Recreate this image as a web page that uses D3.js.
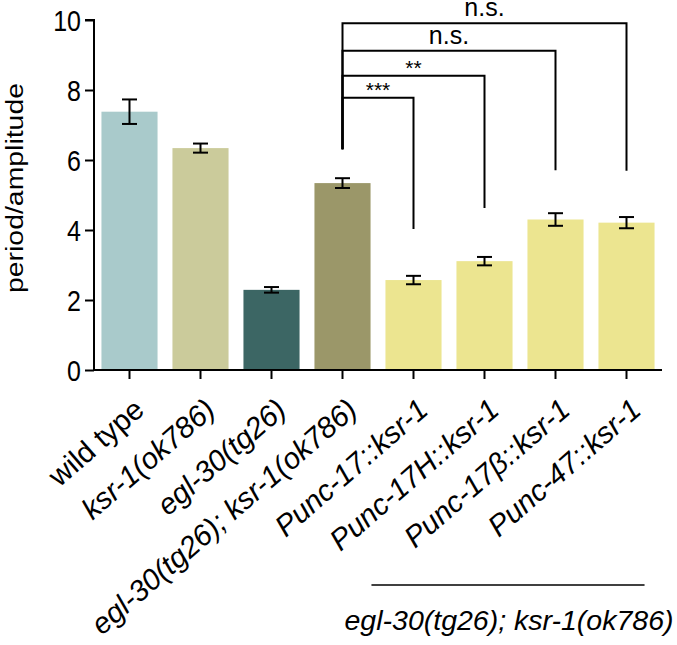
<!DOCTYPE html>
<html><head><meta charset="utf-8">
<script src="https://cdn.jsdelivr.net/npm/d3@7/dist/d3.min.js"></script>
<style>
body{margin:0;background:#fff}
svg{display:block}
text{font-family:"Liberation Sans",Arial,Helvetica,sans-serif;fill:#000}
</style>
</head><body>
<svg id="chart" width="677" height="645"></svg>
<script>
// ---- data ----
const categories = ["wild type","ksr-1(ok786)","egl-30(tg26)","egl-30(tg26); ksr-1(ok786)",
  "Punc-17::ksr-1","Punc-17H::ksr-1","Punc-17β::ksr-1","Punc-47::ksr-1"];
const italicLabel = [false,true,true,true,true,true,true,true];
const means = [7.38,6.34,2.29,5.34,2.57,3.11,4.30,4.21];
const sems  = [0.35,0.13,0.08,0.14,0.12,0.12,0.18,0.16];
const barColors = ["#a9cacb","#cbcb9b","#3c6664","#9b9769","#ece590","#ece590","#ece590","#ece590"];
const yTicks = [0,2,4,6,8,10];
const yLabel = "period/amplitude";
const groupLabel = "egl-30(tg26); ksr-1(ok786)";
// significance comparisons (bar indices, bracket level, drop ends in data units)
const compFrom  = [3,3,3,3];
const compTo    = [4,5,6,7];
const compLevel = [7.78,8.41,9.12,9.91];
const compLeftEnd  = [6.31,6.31,6.31,6.31];
const compRightEnd = [4.03,4.63,5.71,5.69];
const compText  = ["***","**","n.s.","n.s."];

// ---- layout ----
const svg = d3.select("#chart");
const x0 = 94, x1 = 662, yTop = 20, yBot = 370;
const x = d3.scaleBand().domain(categories).range([x0,x1]).paddingInner(0.21).paddingOuter(0.105);
const y = d3.scaleLinear().domain([0,10]).range([yBot,yTop]);

// bars
svg.append("g").selectAll("rect").data(categories).join("rect")
  .attr("x", d=>x(d)).attr("width", x.bandwidth())
  .attr("y", (d,i)=>y(means[i])).attr("height", (d,i)=>y(0)-y(means[i]))
  .attr("fill", (d,i)=>barColors[i]);

// error bars
const eb = svg.append("g").attr("stroke","#000").attr("stroke-width",2).attr("fill","none");
categories.forEach((c,i)=>{
  const cx = x(c)+x.bandwidth()/2, cap = 7.5;
  eb.append("line").attr("x1",cx).attr("x2",cx).attr("y1",y(means[i]+sems[i])).attr("y2",y(means[i]-sems[i]));
  eb.append("line").attr("x1",cx-cap).attr("x2",cx+cap).attr("y1",y(means[i]+sems[i])).attr("y2",y(means[i]+sems[i]));
  eb.append("line").attr("x1",cx-cap).attr("x2",cx+cap).attr("y1",y(means[i]-sems[i])).attr("y2",y(means[i]-sems[i]));
});

// y axis
const ya = svg.append("g").attr("transform",`translate(${x0},0)`)
  .call(d3.axisLeft(y).tickValues(yTicks).tickFormat(d3.format("d")).tickSize(9).tickPadding(4));
ya.select(".domain").attr("stroke-width",2).attr("d",`M-9,${yTop}H0V${yBot}`);
ya.selectAll(".tick line").attr("stroke-width",2);
ya.selectAll(".tick text").attr("font-size",25).attr("font-family",null)
  .attr("dy","0.36em").attr("transform","scale(1,1.15)");

// x axis
const xa = svg.append("g").attr("transform",`translate(0,${yBot})`)
  .call(d3.axisBottom(x).tickSize(9).tickFormat(""));
xa.select(".domain").attr("stroke-width",2).attr("d",`M${x0},0H${x1}`);
xa.selectAll(".tick line").attr("stroke-width",2);

// x labels
svg.append("g").selectAll("text").data(categories).join("text")
  .attr("transform", d=>`translate(${x(d)+x.bandwidth()/2+16.5},${yBot+42.5}) rotate(-41)`)
  .attr("text-anchor","end").attr("font-size",29.5)
  .attr("font-style",(d,i)=>italicLabel[i]?"italic":"normal")
  .text(d=>d);

// y label
svg.append("text").attr("transform",`translate(23,${(83+293)/2}) rotate(-90)`)
  .attr("text-anchor","middle").attr("font-size",23)
  .attr("textLength",210).attr("lengthAdjust","spacingAndGlyphs")
  .text(yLabel);

// significance brackets
const br = svg.append("g");
compTo.forEach((t,i)=>{
  const xa_ = x(categories[compFrom[i]])+x.bandwidth()/2;
  const xb_ = x(categories[t])+x.bandwidth()/2;
  br.append("path").attr("fill","none").attr("stroke","#000").attr("stroke-width",2)
    .attr("d",`M${xa_},${y(compLeftEnd[i])}V${y(compLevel[i])}H${xb_}V${y(compRightEnd[i])}`);
  const isStar = compText[i].indexOf("*")>=0;
  br.append("text").attr("x",(xa_+xb_)/2).attr("y",y(compLevel[i]) - (isStar?1:7))
    .attr("text-anchor","middle").attr("font-size",isStar?21:25).text(compText[i]);
});

// group line and label
const gx0 = x(categories[4]) - 14, gx1 = x(categories[7]) + x.bandwidth() - 10;
svg.append("line").attr("x1",gx0).attr("x2",gx1).attr("y1",585).attr("y2",585)
  .attr("stroke","#000").attr("stroke-width",1.5);
svg.append("text").attr("x",(345+673)/2).attr("y",630).attr("text-anchor","middle")
  .attr("font-size",28.5).attr("font-style","italic").text(groupLabel);
</script>
</body></html>
